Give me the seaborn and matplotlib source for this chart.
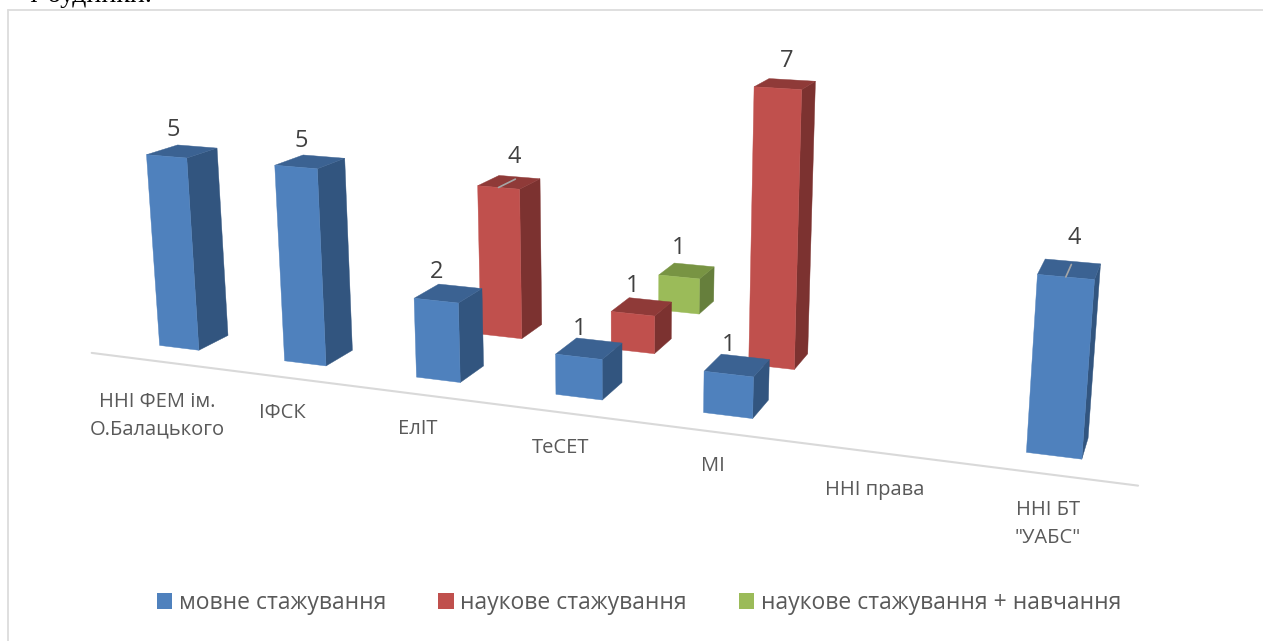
import numpy as np, pandas as pd, matplotlib
matplotlib.use("Agg")
import matplotlib.pyplot as plt
import matplotlib.transforms as mt
from matplotlib.patches import Polygon, Patch
from matplotlib.lines import Line2D
import seaborn as sns

categories = ["ННІ ФЕМ ім.\nО.Балацького", "ІФСК", "ЕлІТ", "ТеСЕТ", "МІ", "ННІ права", "ННІ БТ\n\"УАБС\""]
series = ["мовне стажування", "наукове стажування", "наукове стажування + навчання"]
mov = [5, 5, 2, 1, 1, 0, 4]
nauk = [0, 0, 4, 1, 7, 0, 0]
nauk_nav = [0, 0, 0, 1, 0, 0, 0]

W, H = 1263, 641
# camera of the 3-D chart: (category, series depth, value) -> canvas pixel
CAMERA = np.array([[117.9992, 98.00313, -3.455842, 179.1762],
                   [5.965725, -15.30894, -39.16884, 347.8277],
                   [-0.02637749, 0.07669811, -0.005579567, 1.0]])
BAR_W, BAR_D = 0.32, 0.36
FRONT = ["#4F81BD", "#C0504D", "#9BBB59"]
SIDE = ["#32557F", "#7C3230", "#667F3C"]
TOP = ["#3B6292", "#8F3A38", "#789443"]
GREY = "#595959"
CAT_XY = [(157, 416), (282, 413), (418, 429), (561, 448), (713, 466), (875, 490), (1048, 524)]
LABEL_SHIFT = {(0, 0): (-9, -21), (1, 0): (-9, -21), (2, 0): (-12, -21), (2, 1): (5, -25), (3, 0): (-10, -20),
               (3, 1): (-9, -21), (3, 2): (-8, -23), (4, 0): (-8, -20), (4, 1): (2, -23), (6, 0): (5, -31)}
LEADERS = [(2, 1), (6, 0)]

sns.set_theme(style="white")
plt.rcParams["font.family"] = ["Open Sans", "DejaVu Sans"]


def project(x, d, z):
    h = CAMERA @ np.array([x, d, z, 1.0])
    return h[:2] / h[2]


class FrontFace(mt.Transform):
    input_dims = output_dims = 2

    def __init__(self, series_depth):
        super().__init__()
        self.series_depth = series_depth

    def transform_non_affine(self, values):
        return np.array([project(x, self.series_depth, z) for x, z in np.asarray(values)])


fig = plt.figure(figsize=(W / 100, H / 100), dpi=100)
ax = fig.add_axes([0, 0, 1, 1])
ax.set_axis_off()
pix = mt.Affine2D().scale(1 / W, -1 / H).translate(0, 1) + fig.transFigure

df = pd.DataFrame({
    "cat": categories * 3,
    "series": np.repeat(series, len(categories)),
    "value": mov + nauk + nauk_nav,
})
sns.barplot(data=df, x="cat", y="value", hue="series", hue_order=series, order=categories,
            palette=FRONT, saturation=1, width=BAR_W, dodge=False, legend=False, ax=ax)
ax.set_axis_off()


def face(points, color, z):
    ax.add_patch(Polygon(points, closed=True, fc=color, ec=color, lw=0.3, transform=pix, zorder=z, clip_on=False))


for s, container in enumerate(ax.containers):
    z = 30 - 10 * s
    for bar in container:
        v = bar.get_height()
        if v == 0:
            bar.set_visible(False)
            continue
        x0, x1 = bar.get_x(), bar.get_x() + bar.get_width()
        i = int(round((x0 + x1) / 2))
        bar.set_transform(FrontFace(s) + pix)
        bar.set_clip_on(False)
        bar.set_zorder(z + 2)
        bar.set_linewidth(0.3)
        bar.set_edgecolor(FRONT[s])
        back = s + BAR_D
        face([project(x1, s, 0), project(x1, back, 0), project(x1, back, v), project(x1, s, v)], SIDE[s], z)
        face([project(x0, s, v), project(x1, s, v), project(x1, back, v), project(x0, back, v)], TOP[s], z + 1)
        c = (x0 + x1) / 2
        tx, ty = project(c, s + BAR_D / 2, v)
        dx, dy = LABEL_SHIFT[(i, s)]
        ax.text(tx + dx, ty + dy, str(int(v)), transform=pix, ha="center", va="center",
                fontsize=17, color="#404040", zorder=60)
        if (i, s) in LEADERS:
            a, b = project(c, s, v), project(c, s + BAR_D * 0.8, v)
            ax.add_line(Line2D([a[0], b[0]], [a[1], b[1]], color="#A6A6A6", lw=1.2, transform=pix, zorder=61))

# floor axis
a, b = project(-0.5, -0.3, 0), project(6.5, -0.3, 0)
ax.add_line(Line2D([a[0], b[0]], [a[1], b[1]], color="#D9D9D9", lw=1.5, transform=pix, zorder=1))

for name, (x, y) in zip(categories, CAT_XY):
    ax.text(x, y, name, transform=pix, ha="center", va="center", fontsize=14.5, color=GREY, linespacing=1.5, zorder=60)

handles = [Patch(fc=c, ec="none") for c in FRONT]
ax.legend(handles, series, ncol=3, loc="center left", bbox_to_anchor=(157, 603), bbox_transform=pix,
          frameon=False, fontsize=16.5, labelcolor=GREY, handlelength=0.66, handleheight=0.66,
          handletextpad=0.3, columnspacing=2.27, borderpad=0, borderaxespad=0)

# chart frame
ax.add_line(Line2D([7.5, 7.5], [9.5, H], color="#DCDCDC", lw=1.3, transform=pix, clip_on=False))
ax.add_line(Line2D([7.5, W], [9.5, 9.5], color="#DCDCDC", lw=1.3, transform=pix, clip_on=False))
ax.text(28, 2, "т будинки.", transform=pix, ha="left", va="baseline", fontsize=20, family="Liberation Serif",
        color="black", clip_on=False)

fig.savefig("out.png", dpi=100, facecolor="white")
